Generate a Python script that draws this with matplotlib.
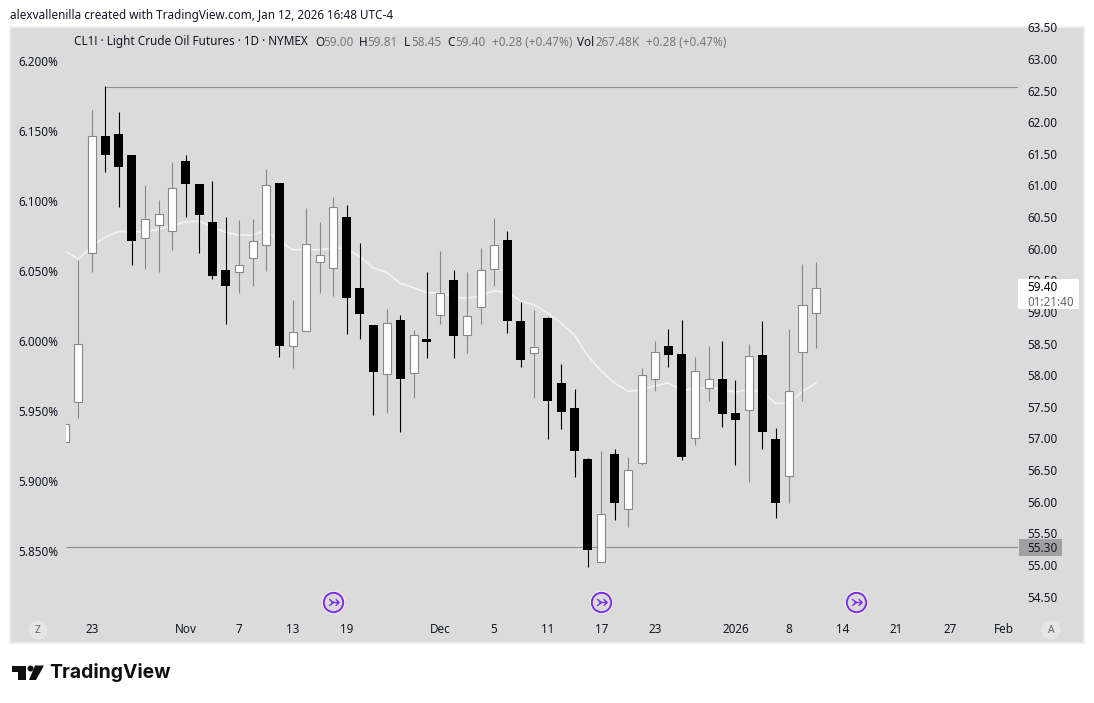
#!/usr/bin/env python

import matplotlib
matplotlib.use('Agg')
import matplotlib.pyplot as plt
from matplotlib.patches import Rectangle, Circle, Polygon
from matplotlib.path import Path
from matplotlib.transforms import ScaledTranslation

# daily candles, first one is cut off by the left edge of the pane
opens = [56.96, 57.59, 59.94, 61.80, 61.83, 61.50, 60.18, 60.39, 60.29, 61.40,
         61.04, 60.44, 59.68, 59.64, 59.87, 60.07, 61.06, 58.47, 58.71, 59.80,
         59.71, 60.52, 59.40, 58.81, 58.04, 58.89, 58.05, 58.59, 58.96, 59.52,
         58.65, 59.09, 59.69, 60.15, 58.87, 58.36, 58.92, 57.89, 57.50, 56.69,
         55.07, 56.77, 55.90, 56.62, 57.95, 58.48, 58.35, 57.03, 57.81, 57.96,
         57.42, 57.46, 58.34, 57.01, 56.42, 58.39, 59.00]
closes = [57.25, 58.51, 61.79, 61.49, 61.30, 60.14, 60.48, 60.56, 60.97, 61.04,
          60.55, 59.59, 59.42, 59.75, 60.13, 61.03, 58.48, 58.70, 60.09, 59.91,
          60.67, 59.24, 58.99, 58.06, 58.84, 57.95, 58.65, 58.54, 59.31, 58.63,
          58.95, 59.68, 60.07, 58.88, 58.25, 58.46, 57.60, 57.44, 56.81, 55.26,
          55.82, 56.00, 56.51, 58.02, 58.38, 58.34, 56.73, 58.08, 57.95, 57.41,
          57.31, 58.32, 57.12, 55.99, 57.76, 59.12, 59.40]
highs = [57.25, 59.84, 62.21, 62.59, 62.18, 61.50, 61.02, 60.79, 61.39, 61.50,
         61.04, 61.09, 60.52, 60.47, 60.49, 61.28, 61.06, 59.21, 60.66, 60.44,
         60.83, 60.71, 60.11, 58.81, 59.06, 58.96, 58.73, 59.65, 59.98, 59.68,
         59.65, 60.03, 60.50, 60.30, 59.17, 59.05, 58.94, 58.19, 57.80, 56.71,
         56.82, 56.85, 56.72, 58.13, 58.56, 58.75, 58.89, 58.30, 58.48, 58.56,
         57.94, 58.51, 58.87, 57.18, 58.75, 59.77, 59.81]
lows = [56.96, 57.34, 59.65, 61.22, 60.68, 59.76, 59.70, 59.65, 60.00, 60.52,
        59.95, 59.53, 58.83, 59.32, 59.42, 59.67, 58.30, 58.13, 58.71, 59.32,
        59.27, 58.67, 58.59, 57.39, 57.42, 57.11, 57.66, 58.28, 58.83, 58.29,
        58.37, 58.82, 59.43, 58.69, 58.14, 57.66, 57.01, 57.16, 56.41, 54.99,
        55.07, 55.73, 55.62, 56.60, 57.76, 58.14, 56.67, 56.92, 57.61, 57.20,
        56.60, 56.32, 56.85, 55.76, 55.99, 57.61, 58.45]
ma20 = [59.98, 59.85, 60.05, 60.20, 60.29, 60.28, 60.29, 60.32, 60.38, 60.44,
        60.45, 60.36, 60.27, 60.23, 60.23, 60.31, 60.13, 60.00, 60.00, 60.00,
        60.03, 60.01, 59.89, 59.71, 59.64, 59.47, 59.40, 59.32, 59.32, 59.25,
        59.23, 59.27, 59.35, 59.32, 59.19, 59.13, 59.00, 58.84, 58.65, 58.32,
        58.08, 57.89, 57.76, 57.78, 57.85, 57.89, 57.78, 57.80, 57.83, 57.79,
        57.75, 57.79, 57.75, 57.57, 57.58, 57.76, 57.89]

price_ticks = [54.5, 55.0, 55.5, 56.0, 56.5, 57.0, 57.5, 58.0, 58.5, 59.0,
               59.5, 60.0, 60.5, 61.0, 61.5, 62.0, 62.5, 63.0, 63.5]
pct_ticks = [5.85, 5.90, 5.95, 6.00, 6.05, 6.10, 6.15, 6.20]
date_pos = [2, 9, 13, 17, 21, 28, 32, 36, 40, 44, 50, 54, 58, 62, 66, 70]
date_labels = ['23', 'Nov', '7', '13', '19', 'Dec', '5', '11', '17', '23',
               '2026', '8', '14', '21', '27', 'Feb']
event_pos = [20, 40, 59]
high_level = 62.57
low_level = 55.30

W, H = 1094, 703
INK = '#131722'
PANE = '#dbdbdb'
EDGE = '#888888'
PURPLE = '#7b2df2'
FS = 8.45

plt.rcParams['font.family'] = ['Noto Sans', 'DejaVu Sans']
plt.rcParams['font.size'] = FS


def fx(x):
    return x / W


def fy(y):
    return 1 - y / H


fig = plt.figure(figsize=(W / 100, H / 100), dpi=100, facecolor='white')

# grey pane behind everything
fig.patches.append(Rectangle((fx(10), fy(643)), 1074 / W, 616 / H, transform=fig.transFigure,
                             facecolor=PANE, edgecolor='#eeeeee', lw=1.5, zorder=-5))

ax = fig.add_axes([fx(66), fy(620), 952 / W, 593 / H])
ax.patch.set_visible(False)
axp = ax.twinx()
axp.patch.set_visible(False)
axp.set_zorder(-1)

ax.set_xlim(0.082, 71.07)
ax.set_ylim(54.146, 63.52)
for s in ax.spines.values():
    s.set_visible(False)

ax.yaxis.tick_right()
ax.set_yticks(price_ticks)
ax.set_yticklabels(['%.2f' % p for p in price_ticks])
ax.tick_params(axis='y', length=0, pad=6.5, labelcolor=INK, labelsize=FS)
up_1px = ScaledTranslation(0, 1 / 100, fig.dpi_scale_trans)
for lab in ax.get_yticklabels():
    lab.set_transform(lab.get_transform() + up_1px)
ax.set_xticks(date_pos)
ax.set_xticklabels(date_labels)
ax.tick_params(axis='x', length=0, pad=2, labelcolor=INK, labelsize=FS)
for lab in ax.get_xticklabels():
    if lab.get_text() == '2026':
        lab.set_fontweight('bold')

# percent scale on the left
axp.set_ylim(5.8007, 6.2243)
for s in axp.spines.values():
    s.set_visible(False)
axp.yaxis.tick_left()
axp.set_yticks(pct_ticks)
axp.set_yticklabels(['%.3f%%' % p for p in pct_ticks])
axp.tick_params(axis='y', length=0, pad=5.3, labelcolor=INK, labelsize=FS)

# key levels
ax.hlines(high_level, 3, 71.07, color='#8e8e8e', lw=0.8, zorder=1)
ax.hlines(low_level, 0.082, 71.07, color='#8e8e8e', lw=0.8, zorder=1)

# average runs under the candles
ax.plot(range(len(ma20)), ma20, color='#f2f2f2', lw=1.2, zorder=2)

for i in range(len(opens)):
    o, c, h, l = opens[i], closes[i], highs[i], lows[i]
    if c >= o:
        ax.vlines(i, l, h, color=EDGE, lw=0.8, zorder=3)
        ax.bar(i, c - o, bottom=o, width=0.6, facecolor='white', edgecolor=EDGE, lw=0.8, zorder=4)
    else:
        ax.vlines(i, l, h, color='black', lw=0.8, zorder=3)
        ax.bar(i, o - c, bottom=c, width=0.67, facecolor='black', edgecolor='black', lw=0, zorder=4)

# purple event badges
arrow = Path([(-4, -3), (0, 0), (-4, 3), (-2, 0), (5, 0), (2, -3), (5, 0), (2, 3)],
             [Path.MOVETO, Path.LINETO, Path.LINETO, Path.MOVETO, Path.LINETO, Path.MOVETO,
              Path.LINETO, Path.LINETO])
for e in event_pos:
    ax.plot([e], [54.43], 'o', ms=15.5, mfc='none', mec='white', mew=1, zorder=5, clip_on=False)
    ax.plot([e], [54.43], 'o', ms=14, mfc=PANE, mec=PURPLE, mew=1.4, zorder=6, clip_on=False)
    ax.plot([e], [54.43], marker=arrow, ms=8, mfc='none', mec=PURPLE, mew=1, zorder=7, clip_on=False)

# header and legend line
fig.text(fx(10), fy(15), 'alexvallenilla created with TradingView.com, Jan 12, 2026 16:48 UTC-4',
         color=INK, fontsize=FS, va='center')
GREY = '#777777'
pieces = [(74, 'CL1! · Light Crude Oil Futures · 1D · NYMEX', INK),
          (315, 'O', INK), (323, '59.00', GREY),
          (359, 'H', INK), (367, '59.81', GREY),
          (404, 'L', INK), (411, '58.45', GREY),
          (447, 'C', INK), (455, '59.40', GREY),
          (492, '+0.28 (+0.47%)', GREY),
          (577, 'Vol', INK), (595, '267.48', GREY), (632, 'K', GREY),
          (646, '+0.28 (+0.47%)', GREY)]
for x, s, col in pieces:
    fig.text(fx(x), fy(42), s, color=col, fontsize=FS, va='center')

# last price tag and low level tag
fig.patches.append(Rectangle((fx(1018), fy(309)), 61 / W, 30 / H, transform=fig.transFigure,
                             facecolor='white', edgecolor='none', zorder=3))
fig.text(fx(1027), fy(288), '59.40', color='black', fontsize=FS, va='center', zorder=4)
fig.text(fx(1027), fy(302), '01:21:40', color='#666666', fontsize=FS, va='center', zorder=4)
fig.patches.append(Rectangle((fx(1019), fy(556)), 43 / W, 17 / H, transform=fig.transFigure,
                             facecolor='#a0a0a0', edgecolor='none', zorder=3))
fig.text(fx(1027), fy(549), '55.30', color=INK, fontsize=FS, va='center', zorder=4)

# Z and A buttons
for x, s in [(38, 'Z'), (1051, 'A')]:
    fig.patches.append(Circle((x, H - 630), 9.5, transform=None, facecolor='#e6e6e6', edgecolor='none', zorder=3))
    fig.text(fx(x), fy(630.5), s, color='#666666', fontsize=7.5, ha='center', va='center', zorder=4)

# logo
logo_bar = [(12, 665.5), (26, 665.5), (26, 680), (18, 680), (18, 672), (12, 672)]
logo_slash = [(35, 665.5), (44, 665.5), (36, 680), (29, 680)]
for pts in (logo_bar, logo_slash):
    fig.patches.append(Polygon([(fx(x), fy(y)) for x, y in pts], closed=True, transform=fig.transFigure,
                               facecolor='#0f0f0f', edgecolor='none'))
fig.patches.append(Circle((30.5, H - 668.5), 3, transform=None, facecolor='#0f0f0f', edgecolor='none'))
fig.text(fx(49), fy(673), 'TradingView', color='#0f0f0f', fontsize=13.9, fontweight='bold',
         family=['Inter', 'DejaVu Sans'], va='center')

outname = 'out.png'
plt.savefig(outname, dpi=100)
